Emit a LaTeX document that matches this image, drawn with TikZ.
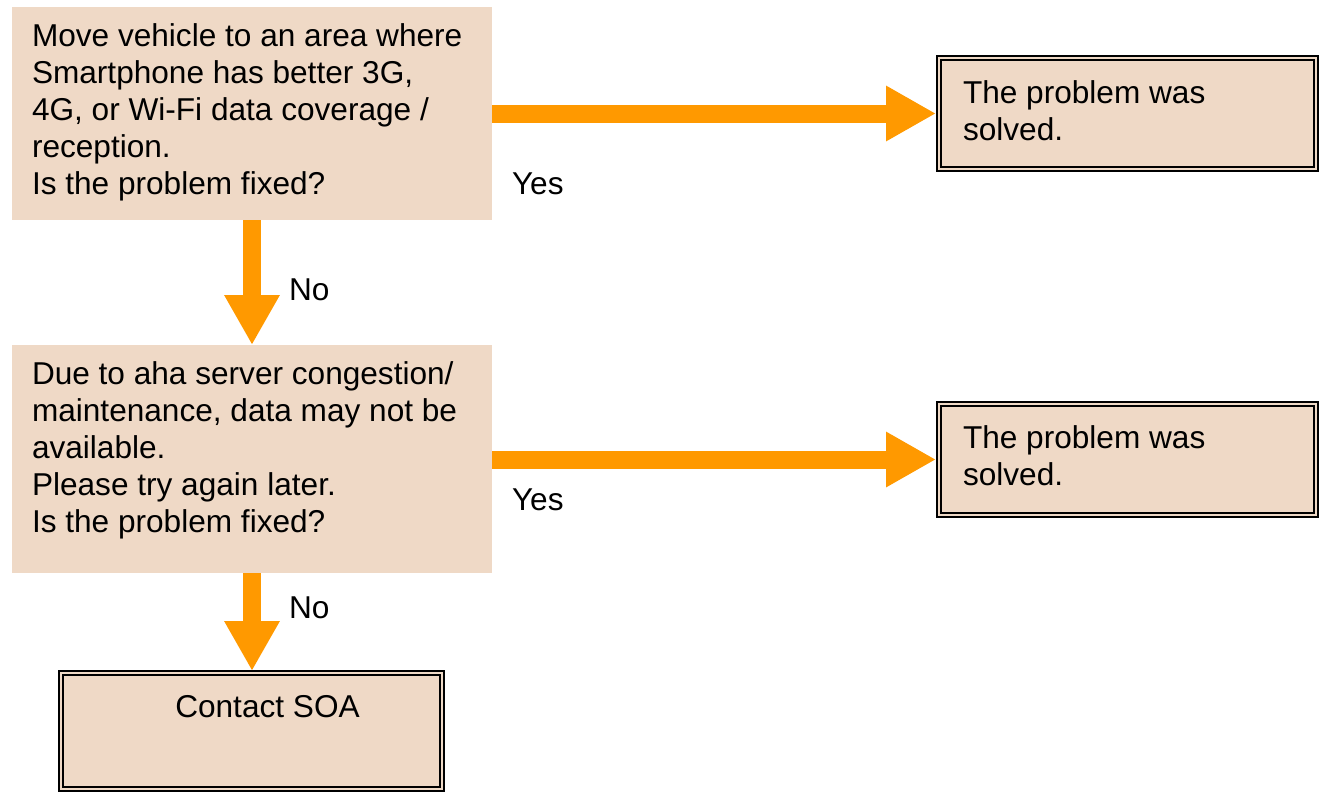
\documentclass[tikz,border=0pt]{standalone}
\usepackage{fontspec}
\setmainfont{Liberation Sans}
\usetikzlibrary{arrows.meta}
\definecolor{boxfill}{HTML}{EFD9C6}
\definecolor{arrorange}{HTML}{FF9900}
\tikzset{
  plainbox/.style={rectangle, fill=boxfill, draw=none, inner sep=0pt, outer sep=0pt},
  dblbox/.style={rectangle, fill=boxfill, draw=black, line width=1.6pt, double=boxfill, double distance=2.6pt, inner sep=0pt, outer sep=0pt},
  txt/.style={inner sep=0pt, outer sep=0pt, align=left, font=\fontsize{31.6}{37}\selectfont},
  lbl/.style={inner sep=0pt, outer sep=0pt, font=\fontsize{31.6}{37}\selectfont},
  bigarrow/.style={draw=arrorange, line width=18pt, -{Triangle[length=50pt,width=52pt,fill=arrorange]}},
}
\begin{document}
\begin{tikzpicture}[x=1pt,y=-1pt]
\useasboundingbox (0,0) rectangle (1319,792);
% boxes
\node[plainbox, minimum width=480pt, minimum height=213pt, anchor=north west] (b1) at (12,7) {};
\node[plainbox, minimum width=480pt, minimum height=228pt, anchor=north west] (b2) at (12,345) {};
\node[dblbox, minimum width=377pt, minimum height=111pt, anchor=north west] (r1) at (939,58) {};
\node[dblbox, minimum width=377pt, minimum height=111pt, anchor=north west] (r2) at (939,404) {};
\node[dblbox, minimum width=381pt, minimum height=116pt, anchor=north west] (c) at (61,673) {};
% texts
\node[txt, anchor=north west] (t1) at (32,23.4) {Move vehicle to an area where\\Smartphone has better 3G,\\4G, or Wi-Fi data coverage /\\reception.\\Is the problem fixed?};
\node[txt, anchor=north west] (t2) at (32,361.4) {Due to aha server congestion/\\maintenance, data may not be\\available.\\Please try again later.\\Is the problem fixed?};
\node[txt, anchor=north west] (tr1) at (963,80.4) {The problem was\\solved.};
\node[txt, anchor=north west] (tr2) at (963,425.4) {The problem was\\solved.};
\node[lbl, anchor=base] (tc) at (267.5,717) {Contact SOA};
% labels
\node[lbl, anchor=base west] (y1) at (512,194) {Yes};
\node[lbl, anchor=base west] (y2) at (512,510) {Yes};
\node[lbl, anchor=base west] (n1) at (289,300) {No};
\node[lbl, anchor=base west] (n2) at (289,618) {No};
% arrows
\draw[bigarrow, shorten >=3pt] (b1.east |- r1.west) -- (r1.west);
\draw[bigarrow, shorten >=3pt] (b2.east |- r2.west) -- (r2.west);
\draw[bigarrow] (b1.south) -- (b2.north);
\draw[bigarrow, shorten >=2pt] (b2.south) -- (b2.south |- c.north);
\end{tikzpicture}
\end{document}
